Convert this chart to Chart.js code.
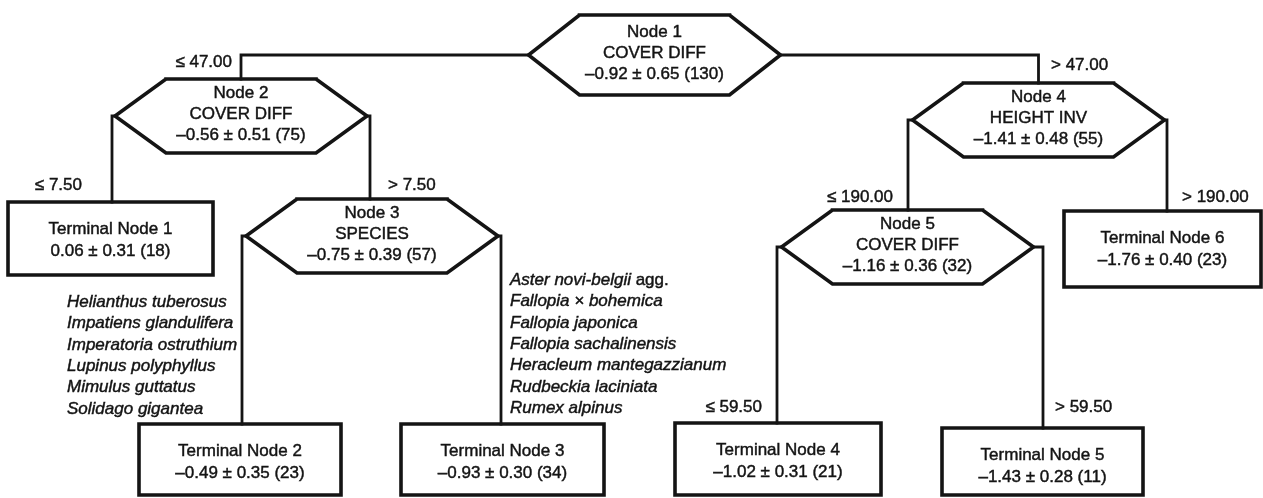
<!DOCTYPE html>
<html>
<head>
<meta charset="utf-8">
<title>Regression tree</title>
<script src="https://cdn.jsdelivr.net/npm/chart.js"></script>
<style>
  html, body { margin: 0; padding: 0; background: #fff; }
  #tree { display: block; }
</style>
</head>
<body>
<canvas id="tree" width="1263" height="498"></canvas>
<script>
// split nodes
var nodeTitles = ['Node 1', 'Node 2', 'Node 3', 'Node 4', 'Node 5'];
var splitVars = ['COVER DIFF', 'COVER DIFF', 'SPECIES', 'HEIGHT INV', 'COVER DIFF'];
var nodeMeans = [-0.92, -0.56, -0.75, -1.41, -1.16];
var nodeSDs = [0.65, 0.51, 0.39, 0.48, 0.36];
var nodeNs = [130, 75, 57, 55, 32];

// terminal nodes
var termTitles = ['Terminal Node 1', 'Terminal Node 2', 'Terminal Node 3',
                  'Terminal Node 4', 'Terminal Node 5', 'Terminal Node 6'];
var termMeans = [0.06, -0.49, -0.93, -1.02, -1.43, -1.76];
var termSDs = [0.31, 0.35, 0.30, 0.31, 0.28, 0.40];
var termNs = [18, 23, 34, 21, 11, 23];

// branch labels, in order N1 left/right, N2 left/right, N4 left/right, N5 left/right
var splitLabels = ['≤ 47.00', '> 47.00', '≤ 7.50', '> 7.50',
                   '≤ 190.00', '> 190.00', '≤ 59.50', '> 59.50'];

var speciesLeft = ['Helianthus tuberosus', 'Impatiens glandulifera', 'Imperatoria ostruthium',
                   'Lupinus polyphyllus', 'Mimulus guttatus', 'Solidago gigantea'];
var speciesRight = ['Aster novi-belgii', 'Fallopia × bohemica', 'Fallopia japonica',
                    'Fallopia sachalinensis', 'Heracleum mantegazzianum', 'Rudbeckia laciniata',
                    'Rumex alpinus'];

// ---- layout (diagram units = pixels of the figure) ----
var hexCenters = [[654.5, 55], [241, 116], [372, 236], [1038.5, 120], [907.5, 247]];
var hexHalfH = [40, 37, 37, 37, 37];
var HEX_HW = 126, HEX_TOP_HW = 75;
// [x0, x1, y0, y1]
var boxes = [[8, 213, 202, 275], [139, 341, 424, 495], [401, 604, 424, 495],
             [675, 881, 423, 495], [942, 1143, 428, 495], [1064, 1261, 211, 287]];
// [parent, side(-1 left / 1 right), child x, child top y]
var edges = [[0, -1, 241, 79], [0, 1, 1038.5, 83], [1, -1, 112, 202], [1, 1, 370, 199],
             [2, -1, 242, 424], [2, 1, 501, 424], [3, -1, 908, 210], [3, 1, 1167, 211],
             [4, -1, 777, 423], [4, 1, 1043, 428]];
// [x, y, align] for splitLabels
var labelAnchors = [[232, 62, 'right'], [1051, 65, 'left'], [82, 185, 'right'], [388, 185, 'left'],
                    [893, 197, 'right'], [1182, 197, 'left'], [762, 407, 'right'], [1055, 407, 'left']];

var INK = '#141414';
var FONT = '"Liberation Sans", Arial, Helvetica, sans-serif';

function fmt(v) {
    return (v < 0 ? '\u2013' : '') + Math.abs(v).toFixed(2);
}
function statText(m, s, n) {
    return fmt(m) + ' \u00b1 ' + s.toFixed(2) + ' (' + n + ')';
}

function hexPoints(i) {
    var cx = hexCenters[i][0], cy = hexCenters[i][1], hh = hexHalfH[i];
    var p = [
        {x: cx - HEX_TOP_HW, y: cy - hh}, {x: cx + HEX_TOP_HW, y: cy - hh},
        {x: cx + HEX_HW, y: cy}, {x: cx + HEX_TOP_HW, y: cy + hh},
        {x: cx - HEX_TOP_HW, y: cy + hh}, {x: cx - HEX_HW, y: cy}
    ];
    return p.concat([p[0], p[1]]);
}
function boxPoints(b) {
    var p = [{x: b[0], y: b[2]}, {x: b[1], y: b[2]}, {x: b[1], y: b[3]}, {x: b[0], y: b[3]}];
    return p.concat([p[0], p[1]]);
}

var datasets = [];
edges.forEach(function (e) {
    var c = hexCenters[e[0]];
    var vx = c[0] + e[1] * HEX_HW;
    datasets.push({
        data: [{x: vx, y: c[1]}, {x: e[2], y: c[1]}, {x: e[2], y: e[3]}],
        borderWidth: 2.8
    });
});
nodeTitles.forEach(function (t, i) {
    datasets.push({data: hexPoints(i), borderWidth: 3.6});
});
termTitles.forEach(function (t, i) {
    datasets.push({data: boxPoints(boxes[i]), borderWidth: 3.6});
});
datasets.forEach(function (d) {
    d.type = 'line';
    d.showLine = true;
    d.fill = false;
    d.borderColor = INK;
    d.pointRadius = 0;
    d.tension = 0;
    d.borderJoinStyle = 'miter';
    d.borderCapStyle = 'square';
    d.clip = false;
});

var treeText = {
    id: 'treeText',
    afterDatasetsDraw: function (chart) {
        var ctx = chart.ctx, sx = chart.scales.x, sy = chart.scales.y;
        function put(txt, x, y, align, style) {
            ctx.font = (style || '') + ' 17px ' + FONT;
            ctx.textAlign = align;
            var px = sx.getPixelForValue(x), py = sy.getPixelForValue(y);
            ctx.fillText(txt, px, py);
            ctx.strokeText(txt, px, py);
            return ctx.measureText(txt).width;
        }
        ctx.save();
        ctx.fillStyle = INK;
        ctx.strokeStyle = INK;
        ctx.lineWidth = 0.45;
        ctx.textBaseline = 'middle';

        nodeTitles.forEach(function (t, i) {
            var c = hexCenters[i];
            put(t, c[0], c[1] - 23, 'center');
            put(splitVars[i], c[0], c[1] - 2, 'center');
            put(statText(nodeMeans[i], nodeSDs[i], nodeNs[i]), c[0], c[1] + 19, 'center');
        });
        termTitles.forEach(function (t, i) {
            var b = boxes[i], cx = (b[0] + b[1]) / 2;
            put(t, cx, b[2] + 27, 'center');
            put(statText(termMeans[i], termSDs[i], termNs[i]), cx, b[2] + 49, 'center');
        });
        splitLabels.forEach(function (t, i) {
            var a = labelAnchors[i];
            put(t, a[0], a[1], a[2]);
        });
        speciesLeft.forEach(function (t, i) {
            put(t, 67, 302 + i * 21.4, 'left', 'italic');
        });
        speciesRight.forEach(function (t, i) {
            var y = 280 + i * 21.4;
            var w = put(t, 510, y, 'left', 'italic');
            if (i === 0) {
                put(' agg.', sx.getValueForPixel(sx.getPixelForValue(510) + w), y, 'left');
            }
        });
        ctx.restore();
    }
};

var config = {
    type: 'scatter',
    data: { datasets: datasets },
    options: {
        responsive: false,
        animation: false,
        devicePixelRatio: 1,
        layout: { padding: 0 },
        scales: {
            x: { type: 'linear', min: 0, max: 1263, display: false },
            y: { type: 'linear', min: 0, max: 498, reverse: true, display: false }
        },
        plugins: {
            legend: { display: false },
            tooltip: { enabled: false },
            title: { display: false }
        }
    },
    plugins: [treeText]
};

window.onload = function () {
    var ctx = document.getElementById('tree').getContext('2d');
    window.treeChart = new Chart(ctx, config);
};
</script>
</body>
</html>
